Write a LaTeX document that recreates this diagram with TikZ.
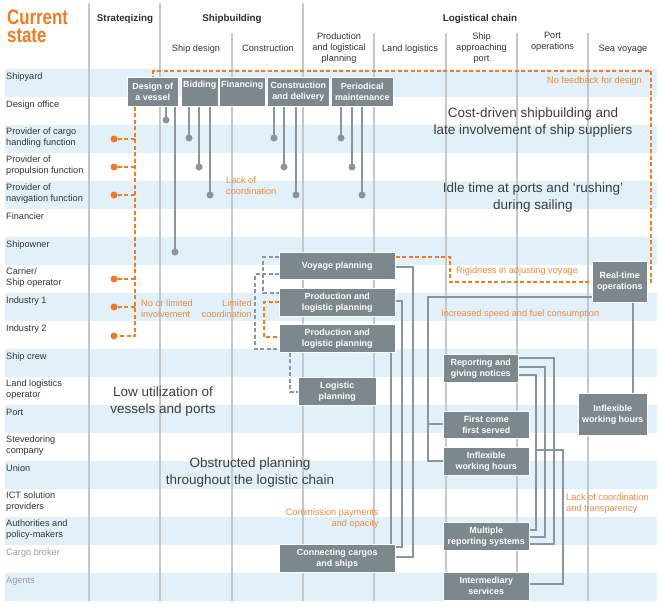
\documentclass[tikz,border=0pt]{standalone}
\usepackage{fontspec}
\setmainfont{Liberation Sans}
\usepackage{graphicx}
\usetikzlibrary{calc}
\definecolor{boxcol}{HTML}{7D878E}
\definecolor{linecol}{HTML}{8B959C}
\definecolor{orng}{HTML}{F47B20}
\definecolor{notecol}{HTML}{F0893E}
\definecolor{stripecol}{HTML}{E2F1F9}
\definecolor{colcol}{HTML}{C3C8CB}
\definecolor{labcol}{HTML}{333333}
\definecolor{lightlab}{HTML}{9A9A9A}
\definecolor{bigcol}{HTML}{3D3D3D}
\definecolor{hdrcol}{HTML}{2E2E2E}
\begin{document}
\begin{tikzpicture}[x=1pt,y=-1pt,
 lab/.style={anchor=north west,inner sep=0pt,align=left,text=labcol,font=\fontsize{9.2}{11}\selectfont,execute at begin node=\strut},
 lablight/.style={lab,text=lightlab},
 hdr/.style={anchor=base,inner sep=0pt,text=hdrcol,font=\bfseries\fontsize{9.8}{11}\selectfont},
 sub/.style={anchor=north,inner sep=0pt,align=center,text=labcol,font=\fontsize{9.2}{11}\selectfont,execute at begin node=\strut},
 box/.style={anchor=north west,fill=boxcol,draw=white,line width=0.5pt,text=white,font=\bfseries\fontsize{8.9}{11}\selectfont,align=center,inner sep=0pt},
 big/.style={align=center,inner sep=0pt,text=bigcol,font=\fontsize{13.5}{17}\selectfont},
 note/.style={inner sep=0pt,text=notecol,font=\fontsize{9.2}{11}\selectfont},
 odash/.style={draw=orng,line width=2pt,dash pattern=on 4pt off 2.5pt},
 gdash/.style={draw=linecol,line width=2pt,dash pattern=on 4pt off 2.5pt},
 conn/.style={draw=linecol,line width=2.6pt},
 colline/.style={draw=colcol,line width=1.1pt},
 odot/.style={circle,fill=orng,inner sep=0pt,minimum size=7pt},
 gdot/.style={circle,fill=linecol,inner sep=0pt,minimum size=7pt}]
\useasboundingbox (0,0) rectangle (663,606);
% stripes
\foreach \k in {0,...,9} \fill[stripecol] (5,69+56*\k) rectangle (657,97+56*\k);
% column lines
\foreach \x in {89,160,303} \draw[colline] (\x,3) -- (\x,601);
\foreach \x in {232,374,446,517,588} \draw[colline] (\x,33) -- (\x,601);
% title
\node[anchor=north west,inner sep=0pt,align=left,text=orng,font=\bfseries\fontsize{21}{18}\selectfont] (cur) at (7,10) {\scalebox{0.8}[1]{Current}\\\scalebox{0.8}[1]{state}};
% headers
\node[hdr] (h1) at (125,21) {Strateqizing};
\node[hdr] (h2) at (232,21) {Shipbuilding};
\node[hdr] (h3) at (480,21) {Logistical chain};
\node[sub] (s1) at (196,43.3) {Ship design};
\node[sub] (s2) at (268,43.3) {Construction};
\node[sub] (s3) at (339,32.3) {Production\\and logistical\\planning};
\node[sub] (s4) at (410,43.3) {Land logistics};
\node[sub] (s5) at (481.5,32.3) {Ship\\approaching\\port};
\node[sub] (s6) at (552.5,32.3) {Port\\operations};
\node[sub] (s7) at (623,43.3) {Sea voyage};
% row labels
\node[lab] (r0) at (6,71.8) {Shipyard};
\node[lab] (r1) at (6,99.8) {Design office};
\node[lab] (r2) at (6,127.8) {Provider of cargo\\handling function};
\node[lab] (r3) at (6,155.8) {Provider of\\propulsion function};
\node[lab] (r4) at (6,183.8) {Provider of\\navigation function};
\node[lab] (r5) at (6,211.8) {Financier};
\node[lab] (r6) at (6,239.8) {Shipowner};
\node[lab] (r7) at (6,267.8) {Carrier/\\Ship operator};
\node[lab] (r8) at (6,295.8) {Industry 1};
\node[lab] (r9) at (6,323.8) {Industry 2};
\node[lab] (r10) at (6,351.8) {Ship crew};
\node[lab] (r11) at (6,379.8) {Land logistics\\operator};
\node[lab] (r12) at (6,407.8) {Port};
\node[lab] (r13) at (6,435.8) {Stevedoring\\company};
\node[lab] (r14) at (6,463.8) {Union};
\node[lab] (r15) at (6,491.8) {ICT solution\\providers};
\node[lab] (r16) at (6,519.8) {Authorities and\\policy-makers};
\node[lablight] (r17) at (6,547.8) {Cargo broker};
\node[lablight] (r18) at (6,575.8) {Agents};
% big texts
\node[big] (t1) at (533,122.5) {Cost-driven shipbuilding and\\late involvement of ship suppliers};
\node[big] (t2) at (533,198) {Idle time at ports and ‘rushing’\\during sailing};
\node[big] (t3) at (163,401) {Low utilization of\\vessels and ports};
\node[big] (t4) at (250,472) {Obstructed planning\\throughout the logistic chain};
% boxes
\node[box,minimum width=51pt,minimum height=29pt] (design) at (127,77) {Design of\\a vessel};
\node[box,minimum width=37pt,minimum height=29pt] (bid) at (181,77) {Bidding\\\strut};
\node[box,minimum width=46pt,minimum height=29pt] (fin) at (219,77) {Financing\\\strut};
\node[box,minimum width=62pt,minimum height=29pt] (con) at (267,77) {Construction\\and delivery};
\node[box,minimum width=62pt,minimum height=29pt] (per) at (331,77) {Periodical\\maintenance};
\node[box,minimum width=116pt,minimum height=27pt] (vp) at (279,252) {Voyage planning};
% orange feedback loop
\draw[odash] (vp.east |- 0,257) -| (450,282) -| (651,71) -| (design.north -| 153,0);
% orange involvement
\node[odot] (o1) at (114,139) {};
\node[odot] (o2) at (114,167) {};
\node[odot] (o3) at (114,195) {};
\node[odot] (o4) at (114,279) {};
\node[odot] (o5) at (114,307) {};
\node[odot] (o6) at (114,336) {};
\draw[odash] (design.south -| 135,0) |- (o6);
\foreach \o in {o1,o2,o3,o4,o5} \draw[odash] (\o) -- (\o -| 135,0);
% pins
\node[gdot] (q1) at (166,120) {};
\node[gdot] (q2) at (175,252) {};
\node[gdot] (q3) at (189,138) {};
\node[gdot] (q4) at (199,167) {};
\node[gdot] (q5) at (210,195) {};
\node[gdot] (q6) at (274,138) {};
\node[gdot] (q7) at (284,167) {};
\node[gdot] (q8) at (296,195) {};
\node[gdot] (q9) at (341,138) {};
\node[gdot] (q10) at (352,167) {};
\node[gdot] (q11) at (362,195) {};
\foreach \q in {q1,q2} \draw[conn] (\q.center) -- (\q |- design.south);
\foreach \q in {q3,q4,q5} \draw[conn] (\q.center) -- (\q |- bid.south);
\foreach \q in {q6,q7,q8} \draw[conn] (\q.center) -- (\q |- con.south);
\foreach \q in {q9,q10,q11} \draw[conn] (\q.center) -- (\q |- per.south);
% planning boxes
\node[box,minimum width=116pt,minimum height=28pt] (p1) at (279,288) {Production and\\logistic planning};
\node[box,minimum width=116pt,minimum height=28pt] (p2) at (279,324) {Production and\\logistic planning};
\node[box,minimum width=78pt,minimum height=28pt] (lp) at (298,377) {Logistic\\planning};
\node[box,minimum width=116pt,minimum height=28pt] (cc) at (279,544) {Connecting cargos\\and ships};
\node[box,minimum width=55pt,minimum height=41pt] (rt) at (592,261) {Real-time\\operations};
\node[box,minimum width=75pt,minimum height=28pt] (rep) at (443,354) {Reporting and\\giving notices};
\node[box,minimum width=86pt,minimum height=27pt] (fc) at (443,411) {First come\\first served};
\node[box,minimum width=86pt,minimum height=28pt] (if1) at (443,447) {Inflexible\\working hours};
\node[box,minimum width=86pt,minimum height=28pt] (mr) at (443,522) {Multiple\\reporting systems};
\node[box,minimum width=86pt,minimum height=28pt] (is) at (443,572) {Intermediary\\services};
\node[box,minimum width=69pt,minimum height=42pt] (if2) at (578,393) {Inflexible\\working hours};
% dashed planning links
\draw[gdash] (vp.west |- 0,257) -| (263,293) -- (p1.west |- 0,293);
\draw[gdash] (vp.west |- 0,274) -| (255,349) -- (p2.west |- 0,349);
\draw[gdash] (p2.south -| 290,0) |- (lp.west |- 0,392);
\draw[odash] (p1.west |- 0,302) -| (264,337) -- (p2.west |- 0,337);
% solid connectors
\draw[conn] (vp.east |- 0,267) -| (413,557) -- (cc.east |- 0,557);
\draw[conn] (p1.east |- 0,301) -| (402,547) -- (cc.east |- 0,547);
\draw[conn] (p2.south -| 391,0) -- (cc.north -| 391,0);
\draw[conn] (rt.west |- 0,297) -| (428,461) -- (if1.west |- 0,461);
\draw[conn] (428,424) -- (fc.west |- 0,424);
\draw[conn] (rt.south -| 633,0) -- (if2.north -| 633,0);
\draw[conn] (rep.east |- 0,358) -| (554,544) -- (mr.east |- 0,544);
\draw[conn] (rep.east |- 0,367) -| (545,537) -- (mr.east |- 0,537);
\draw[conn] (rep.east |- 0,375) -| (536,530) -- (mr.east |- 0,530);
\draw[conn] (536,450) -| (563,584) -- (is.east |- 0,584);
% orange notes
\node[note,anchor=east] (n1) at (642,81) {No feedback for design};
\node[note,anchor=west,align=left] (n2) at (226,186) {Lack of\\coordination};
\node[note,anchor=west,align=left] (n3) at (141,308.5) {No or limited\\involvement};
\node[note,anchor=east,align=right] (n4) at (252,308.5) {Limited\\coordination};
\node[note,anchor=west] (n5) at (456,271) {Rigidness in adjusting voyage};
\node[note,anchor=west] (n6) at (441,314) {Increased speed and fuel consumption};
\node[note,anchor=west,align=left] (n7) at (566,503.5) {Lack of coordination\\and transparency};
\node[note,anchor=east,align=right] (n8) at (379,518.5) {Commission payments\\and opacity};
\end{tikzpicture}
\end{document}
